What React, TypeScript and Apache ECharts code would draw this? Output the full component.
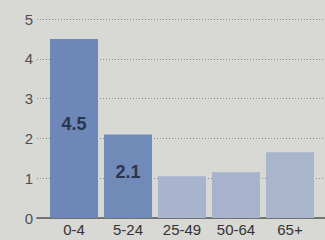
import React, { useEffect, useRef } from "react";
import * as echarts from "echarts";

const categories = ["0-4", "5-24", "25-49", "50-64", "65+"];
const values = [4.5, 2.1, 1.05, 1.15, 1.65];
const shownLabels = [true, true, false, false, false];
const barColors = ["#6d88b8", "#718bb9", "#a8b4ce", "#a7b3cd", "#a9b4cd"];
const yTicks = [0, 1, 2, 3, 4, 5];

export default function App() {
  const ref = useRef<HTMLDivElement>(null);
  useEffect(() => {
    if (!ref.current) return;
    const chart = echarts.init(ref.current, null, { renderer: "svg" });
    chart.setOption({
      animation: false,
      backgroundColor: "#d8d8d5",
      grid: [
        { left: 37, right: 0, top: 19, bottom: 22 },
        { left: 47, right: 8, top: 19, bottom: 22 },
      ],
      xAxis: [
        {
          gridIndex: 0,
          type: "category",
          data: ["a"],
          axisLine: { show: true, lineStyle: { color: "#555", width: 1.5 } },
          axisTick: { show: false },
          axisLabel: { show: false },
        },
        {
          gridIndex: 1,
          type: "category",
          data: categories,
          axisLine: { show: false },
          axisTick: { show: false },
          axisLabel: {
            interval: 0,
            color: "#333",
            fontSize: 15,
            fontFamily: "Liberation Sans, Arial, sans-serif",
            margin: 4,
          },
        },
      ],
      yAxis: [
        {
          gridIndex: 0,
          type: "value",
          min: yTicks[0],
          max: yTicks[yTicks.length - 1],
          interval: 1,
          axisLine: { show: false },
          axisTick: { show: false },
          axisLabel: {
            color: "#505050",
            fontSize: 15,
            fontFamily: "Liberation Sans, Arial, sans-serif",
            margin: 4,
          },
          splitLine: {
            show: true,
            lineStyle: { color: "#8a8a8a", type: [1, 2], width: 1 },
          },
        },
        {
          gridIndex: 1,
          type: "value",
          min: 0,
          max: 5,
          interval: 1,
          show: false,
          splitLine: { show: false },
        },
      ],
      series: [
        {
          type: "bar",
          xAxisIndex: 1,
          yAxisIndex: 1,
          barWidth: 48,
          data: values.map((v, i) => ({
            value: v,
            itemStyle: { color: barColors[i] },
            label: {
              show: shownLabels[i],
              position: "inside",
              offset: [0, -4],
              formatter: (p: any) => String(p.value),
              color: "#2b3550",
              fontSize: 18,
              fontWeight: "bold",
              fontFamily: "Liberation Sans, Arial, sans-serif",
            },
          })),
        },
      ],
    });
    return () => chart.dispose();
  }, []);
  return (
    <div
      ref={ref}
      style={{ position: "fixed", left: 0, top: 0, width: 325, height: 240 }}
    />
  );
}
